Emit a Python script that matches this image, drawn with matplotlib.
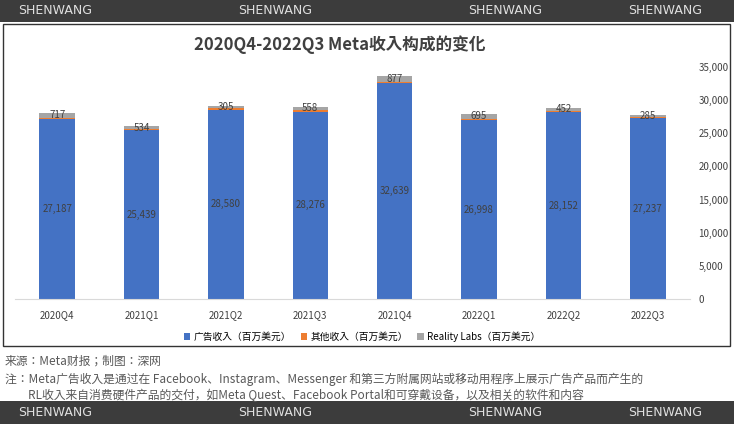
import matplotlib
matplotlib.use("Agg")
import matplotlib.pyplot as plt
from matplotlib.patches import Rectangle
from matplotlib import font_manager as fm

names = sorted(set(f.name for f in fm.fontManager.ttflist))
cjk_name = "DejaVu Sans"
for pref in ["Noto Sans CJK SC", "Noto Sans CJK JP", "Noto Sans CJK"]:
    m = [n for n in names if n.startswith(pref)]
    if m:
        cjk_name = m[0]
        break
else:
    m = [n for n in names if "Sans" in n and "CJK" in n]
    if m:
        cjk_name = m[0]
plt.rcParams["font.family"] = [cjk_name, "DejaVu Sans"]

quarters = ["2020Q4", "2021Q1", "2021Q2", "2021Q3", "2021Q4", "2022Q1", "2022Q2", "2022Q3"]
ad_rev = [27187, 25439, 28580, 28276, 32639, 26998, 28152, 27237]
other_rev = [166, 161, 192, 187, 155, 215, 218, 192]
rl_rev = [717, 534, 305, 558, 877, 695, 452, 285]
yticks = [0, 5000, 10000, 15000, 20000, 25000, 30000, 35000]

W, H = 734, 424
fig = plt.figure(figsize=(W/100, H/100), dpi=100)
fig.patch.set_facecolor("white")

def fx(x): return x / W
def fy(y): return 1 - y / H

for y0, y1 in [(0, 22), (401, 424)]:
    fig.add_artist(Rectangle((0, fy(y1)), 1, (y1 - y0) / H, transform=fig.transFigure,
                             facecolor="#3c3c3c", edgecolor="none"))
for x in [55, 275, 505, 665]:
    fig.text(fx(x), fy(11), "SHENWANG", color="#e0e0e0", fontsize=9, ha="center", va="center",
             family="DejaVu Sans")
    fig.text(fx(x), fy(413), "SHENWANG", color="#e0e0e0", fontsize=9, ha="center", va="center",
             family="DejaVu Sans")
fig.add_artist(Rectangle((fx(3), fy(346)), fx(727), (346 - 24) / H, transform=fig.transFigure,
                         facecolor="none", edgecolor="#333333", lw=1))

ax = fig.add_axes([fx(15), fy(299), fx(675), (299 - 67) / H])
x = range(len(quarters))
w = 0.42
b1 = ax.bar(x, ad_rev, w, color="#4472c4", label="广告收入（百万美元）")
b2 = ax.bar(x, other_rev, w, bottom=ad_rev, color="#ed7d31", label="其他收入（百万美元）")
bot3 = [a + o for a, o in zip(ad_rev, other_rev)]
b3 = ax.bar(x, rl_rev, w, bottom=bot3, color="#a5a5a5", label="Reality Labs（百万美元）")
for i in x:
    ax.text(i, ad_rev[i] / 2, f"{ad_rev[i]:,}", ha="center", va="center", fontsize=7, color="#404040")
    ax.text(i, bot3[i] + rl_rev[i] / 2, f"{rl_rev[i]:,}", ha="center", va="center", fontsize=7, color="#404040")
ax.set_ylim(0, 35000)
ax.set_xlim(-0.5, 7.5)
ax.set_yticks(yticks)
ax.set_yticklabels([f"{v:,}" for v in yticks], fontsize=7, color="#404040")
ax.yaxis.tick_right()
ax.tick_params(axis="y", length=0, pad=6)
ax.set_xticks(list(x))
ax.set_xticklabels(quarters, fontsize=7, color="#404040")
ax.tick_params(axis="x", length=0, pad=8)
for s in ["top", "left", "right"]:
    ax.spines[s].set_visible(False)
ax.spines["bottom"].set_color("#d9d9d9")

fig.text(fx(340), fy(45), "2020Q4-2022Q3 Meta收入构成的变化", fontsize=12, fontweight="bold",
         color="#404040", ha="center", va="center")
fig.legend(handles=[b1, b2, b3], loc="center", bbox_to_anchor=(fx(362), fy(337)), ncol=3,
           frameon=False, fontsize=7, handlelength=0.7, handleheight=0.7, columnspacing=1.0,
           handletextpad=0.3)

fig.text(fx(5), fy(361), "来源：Meta财报；制图：深网", fontsize=8.5, color="#595959", va="center")
fig.text(fx(5), fy(379), "注：Meta广告收入是通过在 Facebook、Instagram、Messenger 和第三方附属网站或移动用程序上展示广告产品而产生的",
         fontsize=8.5, color="#595959", va="center")
fig.text(fx(28), fy(395), "RL收入来自消费硬件产品的交付，如Meta Quest、Facebook Portal和可穿戴设备，以及相关的软件和内容",
         fontsize=8.5, color="#595959", va="center")

fig.savefig("out.png", dpi=100)
